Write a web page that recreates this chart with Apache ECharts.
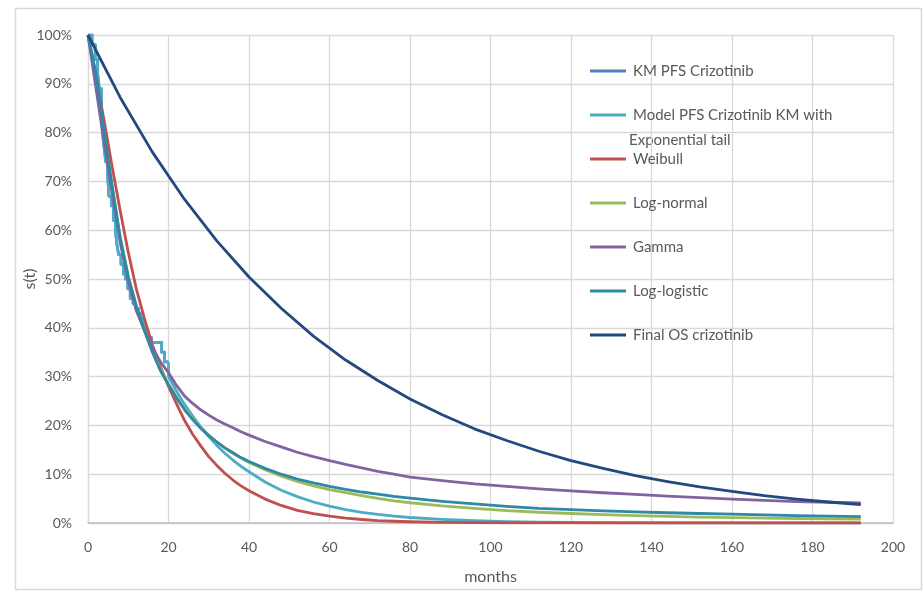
<!DOCTYPE html>
<html><head><meta charset="utf-8">
<script src="https://cdn.jsdelivr.net/npm/echarts@6/dist/echarts.min.js"></script>
<style>html,body{margin:0;padding:0;background:#fff}#c{width:924px;height:593px}</style>
</head><body><div id="c"></div>
<script>
// ---- data ----
const seriesNames = ['KM PFS Crizotinib','Model PFS Crizotinib KM with Exponential tail','Weibull','Log-normal','Gamma','Log-logistic','Final OS crizotinib'];
const xTicks = [0,20,40,60,80,100,120,140,160,180,200];
const kmMonths = [0,1.0,1.8,2.4,2.8,3.3,3.6,4.0,4.4,4.9,5.2,5.8,6.3,6.8,7.2,7.6,8.2,8.8,9.3,9.9,10.5,11.2,11.8,12.5,13.1,13.8,14.3,15.0,15.8,18.3,19.0,20.0];
const kmValues = [100,98,95,92,89,84,80,77,74,71,67,65,62,60,57,55,53,51,50,48,46,45,44,43,42,40.5,39,38,37,35,33,33];
const tailMonths = [20,20,22,24,26,28,30,32,34,36,38,40,44,48,52,56,60,64,68,72,76,80,88,96,104,112,128,144,160,176,192];
const tailValues = [33,30,27,24.3,21.9,19.7,17.7,15.9,14.3,12.9,11.6,10.5,8.4,6.7,5.4,4.3,3.45,2.76,2.2,1.77,1.42,1.13,0.73,0.46,0.3,0.19,0.08,0.03,0.01,0,0];
const fitMonths = [0,2,4,6,8,10,12,14,16,18,20,22,24,26,28,30,32,34,36,38,40,44,48,52,56,60,64,68,72,76,80,88,96,104,112,120,128,136,144,152,160,168,176,184,192];
const weibull = [100,91.5,82.5,73,64,55.5,48,42,36.5,32,28,24.4,21,18.2,15.8,13.6,11.8,10.2,8.8,7.6,6.6,4.9,3.6,2.6,1.9,1.4,1.0,0.72,0.5,0.36,0.26,0.14,0.07,0.04,0.02,0.01,0,0,0,0,0,0,0,0,0];
const lognormal = [100,91,80,69,58.5,50.5,44.5,39.5,35.2,31.5,28.5,25.8,23.5,21.4,19.6,18.0,16.6,15.4,14.3,13.3,12.4,10.9,9.6,8.5,7.6,6.85,6.2,5.6,5.05,4.55,4.15,3.5,3.0,2.55,2.2,1.95,1.7,1.5,1.35,1.22,1.1,1.0,0.92,0.85,0.8];
const gamma = [100,89,78,67.5,57.5,49.5,43.5,39.5,36,33,30.8,28.2,26,24.5,23.2,22.1,21.1,20.3,19.5,18.7,18.0,16.7,15.6,14.5,13.6,12.8,12.0,11.3,10.6,10.0,9.4,8.7,8.0,7.5,7.0,6.6,6.2,5.85,5.5,5.2,4.9,4.65,4.4,4.25,4.1];
const loglogistic = [100,92,80.5,69,58.5,50.5,44.5,39.5,35,31.2,28.3,25.6,23.2,21.2,19.4,17.9,16.6,15.4,14.4,13.4,12.6,11.2,10.0,9.0,8.2,7.5,6.9,6.35,5.9,5.45,5.1,4.45,3.9,3.4,3.0,2.75,2.5,2.28,2.1,1.95,1.8,1.65,1.5,1.4,1.3];
const osMonths = [0,8,16,24,32,40,48,56,64,72,80,88,96,104,112,120,128,136,144,152,160,168,176,184,192];
const osValues = [100,87.2,76.0,66.3,57.8,50.4,44.0,38.3,33.4,29.2,25.4,22.2,19.3,16.9,14.7,12.8,11.2,9.7,8.5,7.4,6.5,5.6,4.9,4.3,3.75];

// ---- styles ----
const colors = ['#4F81BD','#4BACC6','#C0504D','#9BBB59','#8064A2','#2E88A6','#23497F'];
const FONT = "Lato, 'Liberation Sans', sans-serif";
const pair = (xs, ys) => xs.map((x, i) => [x, ys[i]]);

function lineSeries(name, color, data, extra) {
  return Object.assign({
    name: name, type: 'line', data: data, showSymbol: false, symbol: 'none',
    lineStyle: {color: color, width: 2.8, join: 'round'}, itemStyle: {color: color},
    smooth: false, animation: false, z: 2
  }, extra || {});
}

const series = [
  lineSeries(seriesNames[0], colors[0], pair(kmMonths, kmValues), {step: 'end'}),
  lineSeries(seriesNames[1], colors[1], pair(kmMonths, kmValues), {step: 'end'}),
  lineSeries(seriesNames[1], colors[1], pair(tailMonths, tailValues)),
  lineSeries(seriesNames[2], colors[2], pair(fitMonths, weibull)),
  lineSeries(seriesNames[3], colors[3], pair(fitMonths, lognormal)),
  lineSeries(seriesNames[4], colors[4], pair(fitMonths, gamma)),
  lineSeries(seriesNames[5], colors[5], pair(fitMonths, loglogistic)),
  lineSeries(seriesNames[6], colors[6], pair(osMonths, osValues))
];

const legendTops = [71,115,159,203,247,291,335];
const legendLabels = ['KM PFS Crizotinib','Model PFS Crizotinib KM with','Weibull','Log-normal','Gamma','Log-logistic','Final OS crizotinib'];
const legends = seriesNames.map((n, i) => ({
  data: [n], left: 590, top: legendTops[i] - 10, orient: 'vertical', padding: 0,
  icon: 'rect', itemWidth: 36, itemHeight: 3, itemGap: 0,
  formatter: () => legendLabels[i],
  textStyle: {fontFamily: FONT, fontSize: 15, color: '#595959', lineHeight: 20, padding: [0,0,0,2]}
}));

const chart = echarts.init(document.getElementById('c'), null, {renderer: 'canvas'});
chart.setOption({
  animation: false,
  backgroundColor: '#ffffff',
  grid: {left: 88, right: 31, top: 35, bottom: 70, containLabel: false, outerBoundsMode: 'none'},
  xAxis: {
    type: 'value', min: xTicks[0], max: xTicks[xTicks.length - 1], interval: 20,
    name: 'months', nameLocation: 'middle', nameGap: 46,
    nameTextStyle: {fontFamily: FONT, fontSize: 16, color: '#595959'},
    axisLine: {show: true, onZero: false, lineStyle: {color: '#BFBFBF', width: 1.5}},
    axisTick: {show: false},
    axisLabel: {fontFamily: FONT, fontSize: 14, color: '#595959', margin: 17},
    splitLine: {show: true, lineStyle: {color: '#D9D9D9', width: 1.3}}
  },
  yAxis: {
    type: 'value', min: 0, max: 100, interval: 10,
    name: 's(t)', nameLocation: 'middle', nameGap: 50, nameRotate: 90, nameMoveOverlap: false,
    nameTextStyle: {fontFamily: FONT, fontSize: 16, color: '#595959'},
    axisLine: {show: true, lineStyle: {color: '#D9D9D9', width: 1.3}},
    axisTick: {show: false},
    axisLabel: {fontFamily: FONT, fontSize: 14, color: '#595959', margin: 16, formatter: '{value}%'},
    splitLine: {show: true, lineStyle: {color: '#D9D9D9', width: 1.3}}
  },
  legend: legends,
  graphic: [
    {type: 'rect', shape: {x: 15.5, y: 8.5, width: 906, height: 581}, style: {fill: 'none', stroke: '#D9D9D9', lineWidth: 1.5}, z: -1, silent: true},
    {type: 'text', left: 629, top: 133, style: {text: 'Exponential tail', font: "15px " + FONT, fill: '#595959'}, silent: true}
  ],
  series: series
});
</script></body></html>
